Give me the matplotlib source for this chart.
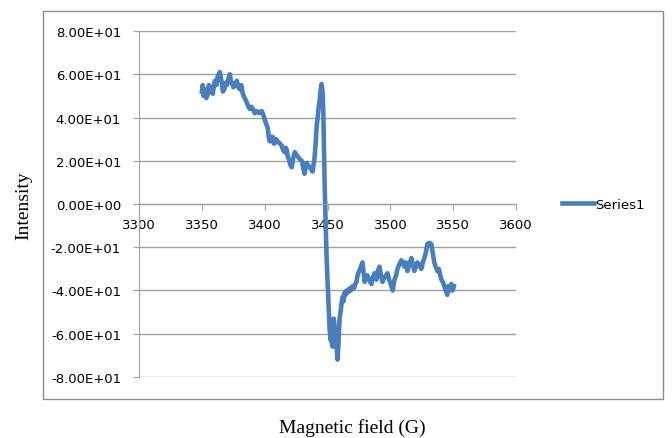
import numpy as np
import matplotlib.pyplot as plt
from matplotlib.patches import Rectangle
from matplotlib.ticker import FuncFormatter, MultipleLocator

field = [3350.0, 3350.6, 3351.2, 3352.4, 3353.5, 3354.8, 3355.6, 3356.3, 3357.5, 3358.7,
         3359.5, 3360.3, 3361.5, 3362.5, 3364.3, 3365.5, 3366.7, 3367.8, 3368.5, 3369.8,
         3371.0, 3372.2, 3373.0, 3373.8, 3375.0, 3376.2, 3377.0, 3377.8, 3379.0, 3380.2,
         3381.3, 3382.5, 3384.0, 3385.7, 3387.0, 3388.1, 3389.3, 3390.5, 3392.0, 3393.7,
         3395.5, 3397.6, 3399.0, 3400.0, 3401.2, 3402.4, 3403.2, 3404.0, 3405.0, 3406.3,
         3407.1, 3407.9, 3409.0, 3410.3, 3412.0, 3413.5, 3414.5, 3415.9, 3416.7, 3417.5,
         3418.3, 3419.5, 3420.5, 3421.4, 3422.5, 3423.8, 3425.0, 3426.2, 3427.5, 3429.4,
         3430.5, 3431.7, 3432.5, 3433.3, 3434.5, 3435.7, 3437.0, 3438.1, 3439.0, 3439.7,
         3440.5, 3441.3, 3442.1, 3442.9, 3443.7, 3444.5, 3445.2, 3446.0, 3446.6, 3447.0,
         3447.6, 3448.4, 3449.2, 3450.0, 3450.8, 3451.6, 3452.4, 3453.0, 3453.5, 3454.0,
         3454.8, 3455.5, 3456.3, 3457.1, 3457.9, 3458.7, 3459.5, 3460.3, 3461.1, 3461.9,
         3462.7, 3463.5, 3464.3, 3465.1, 3466.0, 3467.5, 3468.5, 3469.8, 3471.0, 3472.0,
         3473.0, 3473.8, 3475.0, 3476.0, 3477.0, 3477.8, 3478.5, 3479.4, 3480.5, 3481.7,
         3483.0, 3484.9, 3486.0, 3487.3, 3488.1, 3488.9, 3490.0, 3491.3, 3492.5, 3493.7,
         3495.0, 3496.5, 3497.6, 3499.0, 3500.8, 3501.8, 3503.2, 3504.5, 3505.6, 3507.0,
         3508.7, 3509.8, 3511.1, 3512.3, 3513.5, 3515.0, 3516.7, 3517.8, 3519.0, 3520.2,
         3521.4, 3522.8, 3524.6, 3525.8, 3527.0, 3528.0, 3529.4, 3531.0, 3532.5, 3533.8,
         3534.9, 3536.0, 3537.3, 3538.5, 3540.5, 3541.7, 3542.9, 3544.0, 3545.2, 3546.0,
         3547.0, 3548.4, 3549.5, 3550.5]
intensity = [52, 55, 50, 53, 49, 51, 55, 52, 54, 51,
             55, 57, 55, 59, 61, 57, 52, 53, 56, 55,
             58, 60, 57, 56, 54, 56, 55, 57, 54, 53,
             55, 51, 49, 47, 45, 44, 45, 44, 42, 43,
             42, 43, 41, 39, 37, 35, 31, 29, 31, 31,
             28, 28, 30, 29, 28, 27, 25, 24, 26, 25,
             22, 20, 18, 17, 21, 24, 23, 22, 21, 20,
             17, 14, 17, 19, 18, 17, 16, 15, 19, 22,
             28, 36, 40, 45, 48, 53, 55.5, 52, 42, 30,
             10, -8, -25, -36, -48, -58, -63, -60, -65, -66,
             -53, -56, -61, -66, -72, -64, -53, -50, -46, -43,
             -45, -41, -42, -40, -41, -39, -40, -38, -39, -37,
             -36, -33, -31, -30, -28, -27, -31, -36, -34, -33,
             -35, -37, -34, -32, -34, -35, -31, -29, -33, -36,
             -34, -33, -32, -35, -38, -40, -35, -33, -30, -28,
             -26, -27, -29, -27, -31, -28, -25, -28, -31, -29,
             -27, -28, -30, -27, -25, -23, -18.5, -18, -18.5, -23,
             -27, -29, -31, -30, -35, -36, -38, -40, -42, -38,
             -40, -37, -40, -38]

fig = plt.figure(figsize=(6.72, 4.39), dpi=100)
ax = fig.add_axes([0.207, 0.139, 0.561, 0.788])

grid_c = '#a0a0a0'
ax.plot(field, intensity, color='#4a7ebb', linewidth=3.3, label='Series1',
        solid_joinstyle='round')

ax.set_xlim(3300, 3600)
ax.set_ylim(-80, 80)
ax.xaxis.set_major_locator(MultipleLocator(50))
ax.yaxis.set_major_locator(MultipleLocator(20))
ax.yaxis.set_major_formatter(FuncFormatter(lambda v, p: f"{v:.2E}"))
ax.yaxis.grid(True, color=grid_c, linewidth=1.0)
ax.set_axisbelow(True)

for s in ['top', 'right']:
    ax.spines[s].set_visible(False)
ax.spines['bottom'].set_position(('data', 0))
ax.spines['bottom'].set_color(grid_c)
ax.spines['left'].set_color(grid_c)
ax.tick_params(axis='both', direction='out', length=4, color=grid_c,
               labelsize=9.5, labelcolor='black')
ax.tick_params(axis='y', pad=9)
ax.tick_params(axis='x', pad=6)

fig.patches.append(Rectangle((0.064, 0.089), 0.923, 0.884, transform=fig.transFigure,
                             fill=False, edgecolor='#8c8c8c', linewidth=1.0))

ax.legend(loc='center left', bbox_to_anchor=(1.09, 0.5), frameon=False,
          fontsize=9.5, handlelength=2.4, handletextpad=0.1)

fig.text(0.035, 0.532, 'Intensity', rotation=90, ha='center', va='center',
         family='Liberation Serif', fontsize=14)
fig.text(0.524, 0.025, 'Magnetic field (G)', ha='center', va='center',
         family='Liberation Serif', fontsize=14)

plt.savefig('out.png', dpi=100)
